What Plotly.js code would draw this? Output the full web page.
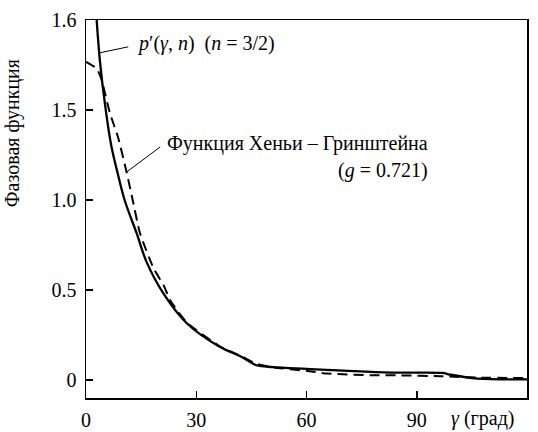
<!DOCTYPE html>
<html>
<head>
<meta charset="utf-8">
<script src="https://cdn.plot.ly/plotly-2.35.2.min.js"></script>
</head>
<body style="margin:0">
<div id="chart"></div>
<script>
// p'(gamma, n), n = 3/2 (solid)
var gammaP = [2.9, 3.8, 5.2, 6.8, 8.6, 10.5, 13.8, 16.5, 21.1, 27.5, 36.5, 42, 46.4, 51, 60, 70, 82.9, 97, 99, 106.5, 120];
var valueP = [2.0, 1.77, 1.527, 1.31, 1.15, 1.0, 0.814, 0.655, 0.48, 0.314, 0.183, 0.132, 0.082, 0.072, 0.062, 0.052, 0.041, 0.039, 0.03, 0.008, 0.004];
// Henyey-Greenstein, g = 0.721 (dashed)
var gammaHG = [0, 2.9, 4.1, 6.5, 8.7, 11.1, 12.7, 14.7, 18.4, 21.1, 22.9, 27.5, 36.5, 42, 46.4, 51, 60.2, 65.6, 78.4, 84.7, 96.5, 107.4, 120];
var valueHG = [1.768, 1.731, 1.677, 1.483, 1.35, 1.15, 1.0, 0.815, 0.62, 0.527, 0.443, 0.318, 0.186, 0.135, 0.09, 0.07, 0.05, 0.036, 0.026, 0.026, 0.021, 0.013, 0.011];
// axis ticks
var xTickVals = [0, 30, 60, 90];
var xTickText = ['0', '30', '60', '90'];
var yTickVals = [0, 0.5, 1.0, 1.5, 2.0];
var yTickText = ['0', '0.5', '1.0', '1.5', '1.6'];

var FONT = 'Liberation Serif';
function f(sz) { return {family: FONT, size: sz, color: '#000'}; }

var traces = [
  {x: gammaP, y: valueP, mode: 'lines', type: 'scatter',
   line: {color: '#000', width: 2.3, shape: 'spline', smoothing: 1.0}, showlegend: false},
  {x: gammaHG, y: valueHG, mode: 'lines', type: 'scatter',
   line: {color: '#000', width: 2, dash: '10px,6px', shape: 'spline', smoothing: 0.5}, showlegend: false}
];

var layout = {
  width: 538, height: 432,
  margin: {l: 86, r: 11, t: 20, b: 34},
  paper_bgcolor: '#fff', plot_bgcolor: '#fff',
  font: f(20),
  xaxis: {
    range: [0, 120], tickvals: xTickVals, ticktext: xTickText,
    ticks: 'inside', ticklen: 7, tickwidth: 1.5, tickcolor: '#000',
    showline: true, linecolor: '#000', linewidth: 1.5, mirror: true,
    showgrid: false, zeroline: false, ticklabelstandoff: 3,
    tickfont: f(20)
  },
  yaxis: {
    range: [-0.1, 2.0], tickvals: yTickVals, ticktext: yTickText,
    ticks: 'inside', ticklen: 7, tickwidth: 1.5, tickcolor: '#000',
    showline: true, linecolor: '#000', linewidth: 1.5, mirror: true,
    showgrid: false, zeroline: false, ticklabelstandoff: 4,
    tickfont: f(20)
  },
  shapes: [
    {type: 'line', xref: 'x', yref: 'y', x0: 3.8, y0: 1.818, x1: 11.5, y1: 1.851, line: {color: '#000', width: 1}},
    {type: 'line', xref: 'x', yref: 'y', x0: 11.1, y0: 1.156, x1: 20.2, y1: 1.295, line: {color: '#000', width: 1}}
  ],
  annotations: [
    {text: '<i>p</i>′(<i>γ</i>, <i>n</i>)  (<i>n</i> = 3/2)', xref: 'x', yref: 'y', x: 13.4, y: 1.87,
     xanchor: 'left', yanchor: 'middle', showarrow: false, font: f(20)},
    {text: 'Функция Хеньи – Гринштейна', xref: 'x', yref: 'y', x: 21.5, y: 1.316,
     xanchor: 'left', yanchor: 'middle', showarrow: false, font: f(20)},
    {text: '(<i>g</i> = 0.721)', xref: 'x', yref: 'y', x: 80.7, y: 1.166,
     xanchor: 'center', yanchor: 'middle', showarrow: false, font: f(20)},
    {text: '<i>γ</i> (град)', xref: 'paper', yref: 'paper', x: 0.898, y: -0.055,
     xanchor: 'center', yanchor: 'middle', showarrow: false, font: f(20)},
    {text: 'Фазовая функция', xref: 'paper', yref: 'paper', x: -0.166, y: 0.70,
     xanchor: 'center', yanchor: 'middle', textangle: -90, showarrow: false, font: f(20)}
  ]
};

Plotly.newPlot('chart', traces, layout, {displayModeBar: false, staticPlot: true}).then(function () {
  document.querySelectorAll('#chart text').forEach(function (t) {
    t.style.setProperty('font-family', FONT, 'important');
  });
});
</script>
</body>
</html>
